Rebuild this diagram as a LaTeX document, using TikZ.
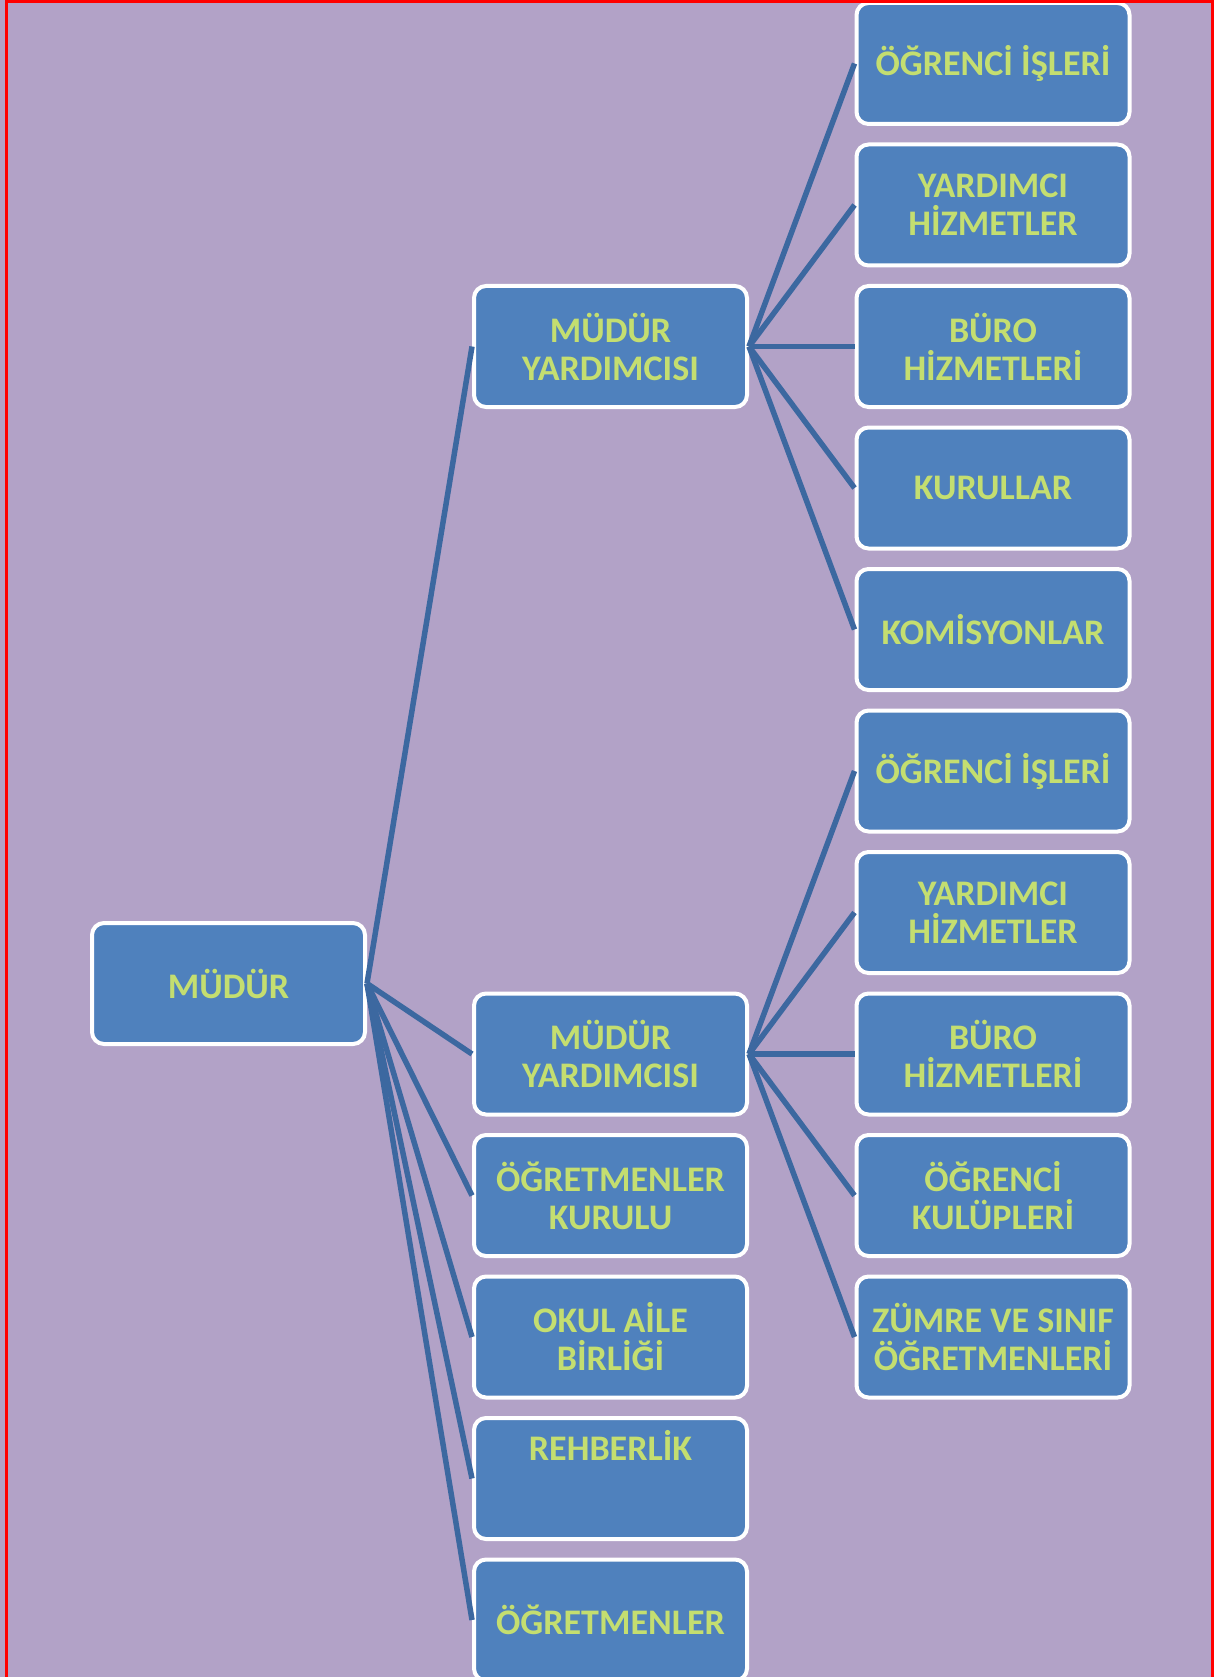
\documentclass[tikz,border=0pt]{standalone}
\usepackage{fontspec}
\setmainfont{Carlito}
\definecolor{bgpurple}{RGB}{178,162,199}
\definecolor{boxblue}{RGB}{79,129,189}
\definecolor{linkblue}{RGB}{60,104,160}
\definecolor{textgreen}{RGB}{196,222,112}
\tikzset{
	unit/.style={draw=white,line width=4pt,fill=boxblue,rounded corners=12pt,
		minimum width=273pt,minimum height=121pt,inner sep=0pt,align=center,
		text=textgreen,font=\fontsize{36}{38}\selectfont\bfseries},
	link/.style={linkblue,line width=5.5pt}
}

\begin{document}
\begin{tikzpicture}[x=1pt,y=-1pt]
\useasboundingbox (0,0) rectangle (1214,1677);
\clip (0,0) rectangle (1214,1677);
\fill[bgpurple] (0,0) rectangle (1214,1677);

\foreach \i/\txt in {0/{ÖĞRENCİ İŞLERİ}, 1/{YARDIMCI\\HİZMETLER}, 2/{BÜRO\\HİZMETLERİ},
	3/{KURULLAR}, 4/{KOMİSYONLAR}, 5/{ÖĞRENCİ İŞLERİ}, 6/{YARDIMCI\\HİZMETLER},
	7/{BÜRO\\HİZMETLERİ}, 8/{ÖĞRENCİ\\KULÜPLERİ}, 9/{ZÜMRE VE SINIF\\ÖĞRETMENLERİ}}
	{
	\node[unit] (birim\i) at (993,63.5+141.5*\i) {\txt};
	}

\node[unit] (mudur) at (228.5,983.5) {MÜDÜR};
\node[unit] (yrd1) at (610.5,346.5) {MÜDÜR\\YARDIMCISI};
\node[unit] (yrd2) at (610.5,1054) {MÜDÜR\\YARDIMCISI};
\node[unit] (kurul) at (610.5,1195.5) {ÖĞRETMENLER\\KURULU};
\node[unit] (aile) at (610.5,1337) {OKUL AİLE\\BİRLİĞİ};
\node[unit,text height=26pt,text depth=62pt] (rehber) at (610.5,1478.5) {REHBERLİK};
\node[unit] (ogretmen) at (610.5,1620) {ÖĞRETMENLER};

\foreach \n in {yrd1,yrd2,kurul,aile,rehber,ogretmen}
	\draw[link] (mudur.east) -- (\n.west);
\foreach \i in {0,...,4}
	\draw[link] (yrd1.east) -- (birim\i.west);
\foreach \i in {5,...,9}
	\draw[link] (yrd2.east) -- (birim\i.west);

\draw[red,line width=3pt] (6,1677) -- (6,1.5) -- (1212.5,1.5) -- (1212.5,1677);
\end{tikzpicture}
\end{document}
